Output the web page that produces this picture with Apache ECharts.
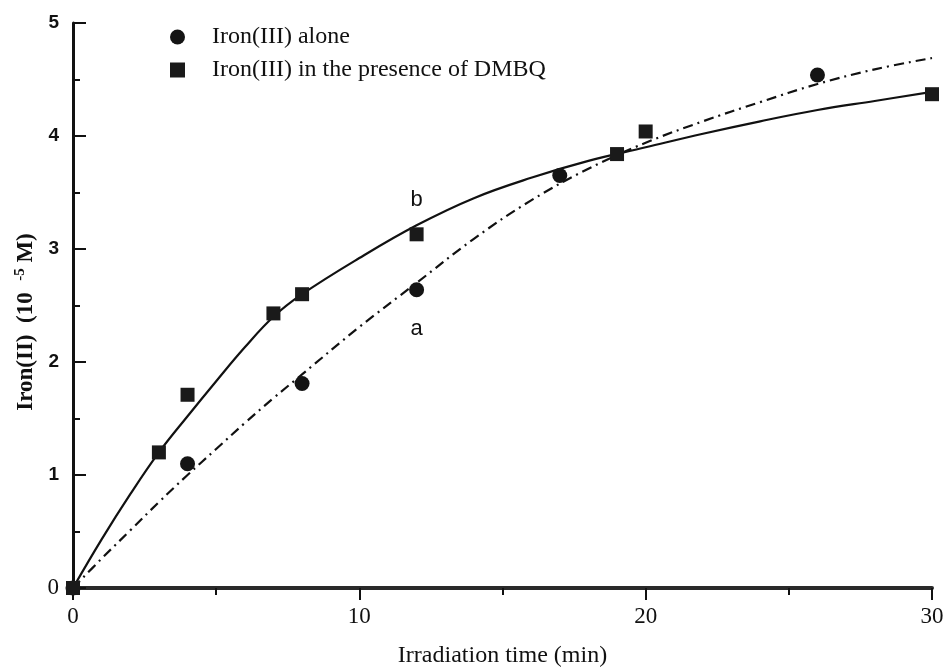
<!DOCTYPE html>
<html><head><meta charset="utf-8">
<script src="https://cdn.jsdelivr.net/npm/echarts@6/dist/echarts.min.js"></script>
<style>html,body{margin:0;padding:0;background:#fff}#c{width:945px;height:669px}</style>
</head><body><div id="c"></div>
<script>
const xTicks = [0, 10, 20, 30];
const yTicks = [0, 1, 2, 3, 4, 5];
const aloneX = [0, 4, 8, 12, 17, 26];
const aloneY = [0, 1.10, 1.81, 2.64, 3.65, 4.54];
const dmbqX = [0, 3, 4, 7, 8, 12, 19, 20, 30];
const dmbqY = [0, 1.20, 1.71, 2.43, 2.60, 3.13, 3.84, 4.04, 4.37];
const curveX = [0, 1, 2, 3, 4, 5, 6, 7, 8, 10, 12, 14, 16, 18, 20, 22, 24, 26, 28, 30];
const curveAY = [0, 0.26, 0.51, 0.76, 1.0, 1.23, 1.46, 1.68, 1.89, 2.31, 2.70, 3.09, 3.43, 3.71, 3.94, 4.13, 4.30, 4.46, 4.59, 4.69];
const curveBY = [0, 0.43, 0.83, 1.20, 1.52, 1.83, 2.13, 2.40, 2.60, 2.92, 3.21, 3.45, 3.63, 3.78, 3.90, 4.02, 4.13, 4.23, 4.31, 4.39];
const curveLabelText = ['b', 'a'];
const curveLabelX = [12, 12];
const curveLabelY = [3.43, 2.29];
const seriesNames = ['Iron(III) alone', 'Iron(III) in the presence of DMBQ'];

const zip = (xs, ys) => xs.map((x, i) => [x, ys[i]]);
const chart = echarts.init(document.getElementById('c'));
const serif = 'Liberation Serif, Times New Roman, serif';
const sans = 'Liberation Sans, Arial, sans-serif';
const ink = '#111';

chart.setOption({
  animation: false,
  backgroundColor: '#fff',
  grid: { left: 73, right: 13, top: 23, bottom: 81, outerBoundsMode: 'none', containLabel: false },
  legend: {
    data: seriesNames,
    orient: 'vertical',
    left: 165, top: 20,
    itemWidth: 15, itemHeight: 15, itemGap: 9,
    inactiveColor: ink,
    textStyle: { fontFamily: serif, fontSize: 24, color: ink, padding: [0, 0, 0, 22] }
  },
  xAxis: {
    type: 'value', min: 0, max: 30, interval: 10,
    name: 'Irradiation time (min)', nameLocation: 'middle', nameGap: 56,
    nameTextStyle: { fontFamily: serif, fontSize: 24, color: ink },
    axisLine: { lineStyle: { color: '#2a2a2a', width: 4 } },
    axisTick: { show: true, inside: false, length: 12, lineStyle: { color: ink, width: 2 } },
    minorTick: { show: true, splitNumber: 2, length: 7, lineStyle: { color: ink, width: 2 } },
    splitLine: { show: false },
    axisLabel: {
      margin: 17, fontFamily: serif, fontSize: 23, color: ink,
      customValues: xTicks
    }
  },
  yAxis: {
    type: 'value', min: 0, max: 5, interval: 1,
    axisLine: { lineStyle: { color: ink, width: 3 } },
    axisTick: { show: true, inside: true, length: 13, lineStyle: { color: ink, width: 2 } },
    minorTick: { show: true, splitNumber: 2, length: 7, lineStyle: { color: ink, width: 2 } },
    splitLine: { show: false },
    axisLabel: {
      margin: 14, color: ink,
      formatter: v => (v === 0 ? '{z|0}' : '{n|' + v + '}'),
      rich: {
        z: { fontFamily: serif, fontSize: 23, color: ink },
        n: { fontFamily: sans, fontSize: 19, fontWeight: 'bold', color: ink }
      },
      customValues: yTicks
    }
  },
  graphic: [{
    type: 'text', x: 26, y: 322, rotation: Math.PI / 2,
    style: {
      text: '{t|Iron(II)  (10  }{s|-5}{t| M)}',
      align: 'center', verticalAlign: 'middle',
      rich: {
        t: { fontFamily: serif, fontSize: 23, fontWeight: 'bold', fill: ink, lineHeight: 26 },
        s: { fontFamily: serif, fontSize: 15, fontWeight: 'bold', fill: ink, lineHeight: 15, verticalAlign: 'top' }
      }
    }
  }],
  series: [
    {
      name: 'curve a', type: 'line', data: zip(curveX, curveAY), smooth: 0.4,
      showSymbol: false, symbol: 'none', z: 2,
      lineStyle: { color: ink, width: 2.2, type: [10, 5, 2, 5] }
    },
    {
      name: 'curve b', type: 'line', data: zip(curveX, curveBY), smooth: 0.4,
      showSymbol: false, symbol: 'none', z: 2,
      lineStyle: { color: ink, width: 2.2 }
    },
    {
      name: seriesNames[0], type: 'scatter', data: zip(aloneX, aloneY),
      symbol: 'circle', symbolSize: 15, z: 3,
      itemStyle: { color: '#141414', opacity: 1 }
    },
    {
      name: seriesNames[1], type: 'scatter', data: zip(dmbqX, dmbqY),
      symbol: 'rect', symbolSize: 14, z: 3,
      itemStyle: { color: '#1a1a1a', opacity: 1 }
    },
    {
      name: 'labels', type: 'scatter', symbolSize: 1, silent: true, z: 4,
      itemStyle: { opacity: 0 },
      data: curveLabelX.map((x, i) => ({ value: [x, curveLabelY[i]], name: curveLabelText[i] })),
      label: {
        show: true, position: 'inside', formatter: p => p.name,
        fontFamily: sans, fontSize: 22, color: ink, opacity: 1
      }
    }
  ]
});
</script></body></html>
